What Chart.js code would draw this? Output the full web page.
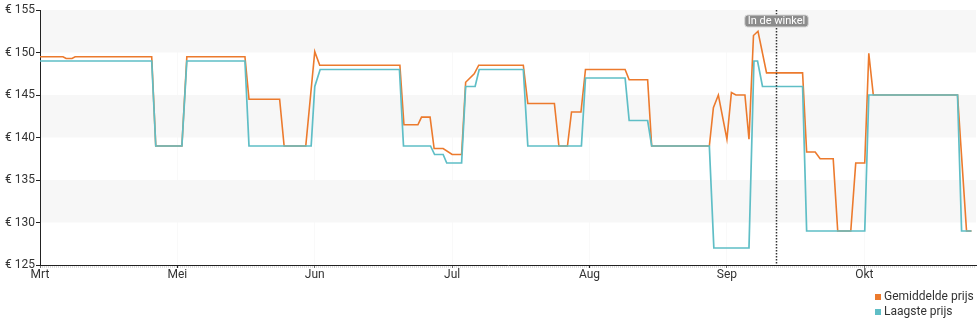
<!DOCTYPE html>
<html>
<head>
<meta charset="utf-8">
<script src="https://cdn.jsdelivr.net/npm/chart.js@4.4.0/dist/chart.umd.min.js"></script>
<style>
  body { margin: 0; background: #fff; font-family: Roboto, sans-serif; }
  #wrap { position: relative; width: 980px; height: 325px; }
  #prijsChart { position: absolute; left: 0; top: 0; }
  #legend { position: absolute; left: 875px; top: 289px; font: 12px Roboto, sans-serif; line-height: 15px; color: #333; }
  #legend span.box { display: inline-block; width: 6px; height: 6px; margin-right: 3px; }
</style>
</head>
<body>
<div id="wrap">
  <canvas id="prijsChart" width="980" height="290"></canvas>
  <div id="legend">
    <div><span class="box" style="background:#ec7a2d"></span>Gemiddelde prijs</div>
    <div><span class="box" style="background:#5fbec6"></span>Laagste prijs</div>
  </div>
</div>
<script>
// days counted from the start of the axis
let avgDays = [0, 5.1, 5.8, 7.1, 7.8, 24.8, 25.7, 31.5, 32.6, 45.5, 46.4, 53.2, 54.2, 59.0, 61.0,
  62.1, 79.9, 80.8, 83.9, 84.7, 86.6, 87.5, 89.5, 91.5, 93.6, 94.5, 96.4, 97.4, 107.3, 108.3,
  114.2, 115.2, 117.1, 118.0, 120.1, 121.1, 129.9, 130.8, 134.9, 135.8, 148.6, 149.5, 150.6, 152.5, 153.5,
  154.5, 156.5, 157.4, 158.4, 159.4, 161.3, 169.3, 170.2, 172.1, 173.2, 176.1, 177.1, 180.0, 181.1, 183.1,
  184.0, 185.0, 203.7, 205.7, 206.8];
let avgPrices = [149.5, 149.5, 149.3, 149.3, 149.5, 149.5, 139, 139, 149.5, 149.5, 144.5, 144.5, 139, 139, 150.1,
  148.5, 148.5, 141.5, 141.5, 142.4, 142.4, 138.7, 138.7, 138, 138, 146.5, 147.5, 148.5, 148.5, 144,
  144, 139, 139, 143, 143, 148, 148, 146.8, 146.8, 139, 139, 143.5, 145, 139.8, 145.3,
  145, 145, 139.8, 152, 152.5, 147.6, 147.6, 138.3, 138.3, 137.5, 137.5, 129, 129, 137, 137,
  149.9, 145, 145, 129, 129];

let lowDays = [0, 24.8, 25.7, 31.5, 32.6, 45.5, 46.4, 60.2, 61.0, 62.2, 79.8, 80.7, 86.7, 87.6, 89.5,
  90.3, 93.6, 94.5, 96.6, 97.5, 107.3, 108.3, 120.2, 121.1, 129.9, 130.8, 134.9, 135.8, 148.6, 149.6,
  157.4, 158.5, 159.3, 160.4, 169.3, 170.2, 183.1, 184.0, 203.7, 204.6, 206.8];
let lowPrices = [149, 149, 139, 139, 149, 149, 139, 139, 146, 148, 148, 139, 139, 138, 138,
  137, 137, 146, 146, 148, 148, 139, 139, 147, 147, 142, 142, 139, 139, 127,
  127, 149, 149, 146, 146, 129, 129, 145, 145, 129, 129];

let monthTicks = [0, 30.5, 61, 91.5, 122, 152.5, 183];
let monthLabels = ["Mrt", "Mei", "Jun", "Jul", "Aug", "Sep", "Okt"];
let priceTicks = [125, 130, 135, 140, 145, 150, 155];
let shadedBands = [[150, 155], [140, 145], [130, 135]];
let storeDay = 163.4;
let storeLabel = "In de winkel";

function toPoints(days, prices) {
  let pts = [];
  for (let i = 0; i < days.length; i++) pts.push({ x: days[i], y: prices[i] });
  return pts;
}

// grey bands behind the lines
const bandsPlugin = {
  id: "bands",
  beforeDatasetsDraw(chart) {
    const ctx = chart.ctx;
    const area = chart.chartArea;
    const y = chart.scales.y;
    ctx.save();
    ctx.fillStyle = "#f7f7f7";
    shadedBands.forEach(function (b) {
      const top = y.getPixelForValue(b[1]);
      const bottom = y.getPixelForValue(b[0]);
      ctx.fillRect(area.left + 1, top, area.right - area.left - 1, bottom - top);
    });
    ctx.restore();
  },
};

// dotted marker line with its label, plus the dotted day ruler under the axis
const markerPlugin = {
  id: "marker",
  afterDatasetsDraw(chart) {
    const ctx = chart.ctx;
    const area = chart.chartArea;
    const x = Math.round(chart.scales.x.getPixelForValue(storeDay)) + 0.5;
    ctx.save();
    ctx.strokeStyle = "#333";
    ctx.lineWidth = 1.5;
    ctx.setLineDash([1.5, 1.5]);
    ctx.beginPath();
    ctx.moveTo(x, area.top);
    ctx.lineTo(x, area.bottom);
    ctx.stroke();

    ctx.strokeStyle = "#bbb";
    ctx.lineWidth = 1;
    ctx.setLineDash([1, 1]);
    ctx.beginPath();
    ctx.moveTo(area.left, area.bottom + 2);
    ctx.lineTo(area.right, area.bottom + 2);
    ctx.stroke();
    ctx.setLineDash([]);

    ctx.font = "11px Roboto, sans-serif";
    const w = ctx.measureText(storeLabel).width + 6;
    const h = 12;
    const bx = x - w / 2;
    const by = area.top + 5;
    ctx.beginPath();
    ctx.roundRect(bx, by, w, h, 3);
    ctx.fillStyle = "#8c8c8c";
    ctx.fill();
    ctx.strokeStyle = "#d8d8d8";
    ctx.lineWidth = 1;
    ctx.stroke();
    ctx.fillStyle = "#fff";
    ctx.textAlign = "center";
    ctx.textBaseline = "middle";
    ctx.fillText(storeLabel, x, by + h / 2 + 0.5);
    ctx.restore();
  },
};

const config = {
  type: "line",
  data: {
    datasets: [
      {
        label: "Gemiddelde prijs",
        data: toPoints(avgDays, avgPrices),
        borderColor: "#ec7a2d",
        backgroundColor: "#ec7a2d",
        borderWidth: 1.6,
        pointRadius: 0,
        tension: 0,
        order: 1,
      },
      {
        label: "Laagste prijs",
        data: toPoints(lowDays, lowPrices),
        borderColor: "#5fbec6",
        backgroundColor: "#5fbec6",
        borderWidth: 1.7,
        pointRadius: 0,
        tension: 0,
        order: 0,
      },
    ],
  },
  options: {
    responsive: false,
    animation: false,
    devicePixelRatio: 1,
    layout: { padding: { top: 10, right: 4, left: 0, bottom: 0 } },
    plugins: {
      legend: { display: false },
      tooltip: { enabled: false },
    },
    scales: {
      x: {
        type: "linear",
        min: 0,
        max: 207.8,
        afterFit: function (s) { s.height = 25; },
        afterBuildTicks: function (s) {
          s.ticks = monthTicks.map(function (v) { return { value: v }; });
        },
        ticks: {
          autoSkip: false,
          maxRotation: 0,
          padding: 0,
          color: "#333",
          font: { family: "Roboto", size: 12 },
          callback: function (v) {
            const i = monthTicks.indexOf(v);
            return i >= 0 ? monthLabels[i] : "";
          },
        },
        grid: {
          color: "rgba(0,0,0,0.025)",
          tickColor: "#222",
          tickLength: 3,
        },
        border: { display: true, color: "#222", width: 1 },
      },
      y: {
        min: 125,
        max: 155,
        afterFit: function (s) { s.width = 40; },
        afterBuildTicks: function (s) {
          s.ticks = priceTicks.map(function (v) { return { value: v }; });
        },
        ticks: {
          padding: 1,
          color: "#333",
          font: { family: "Roboto", size: 12 },
          callback: function (v) { return "€ " + v; },
        },
        grid: {
          drawOnChartArea: false,
          tickColor: "#222",
          tickLength: 4,
        },
        border: { display: true, color: "#222", width: 1 },
      },
    },
  },
  plugins: [bandsPlugin, markerPlugin],
};

new Chart(document.getElementById("prijsChart"), config);
</script>
</body>
</html>
